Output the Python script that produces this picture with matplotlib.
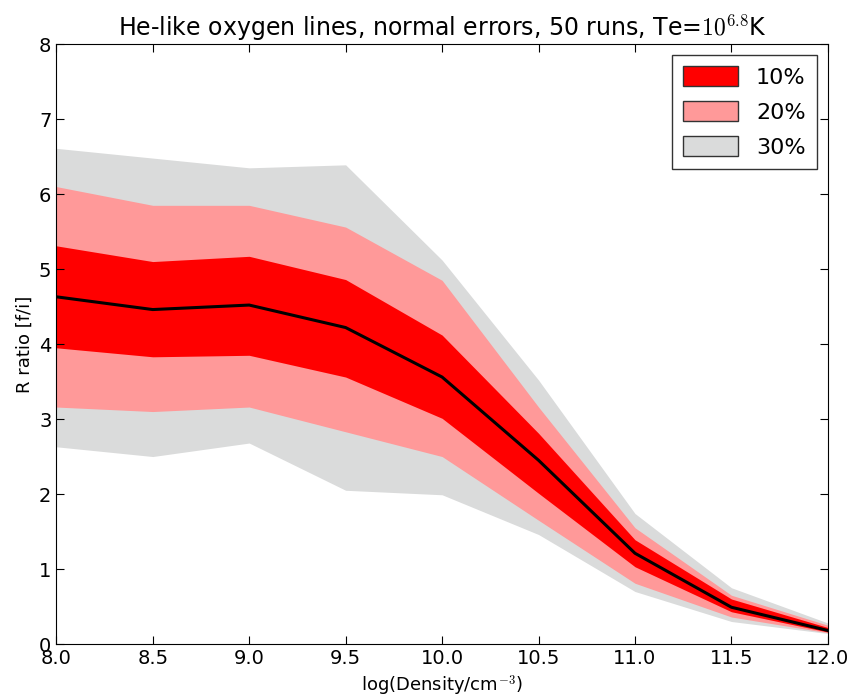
import matplotlib
matplotlib.use("Agg")
import matplotlib.pyplot as plt
from matplotlib.patches import Patch

# log density grid
density = [8.0, 8.5, 9.0, 9.5, 10.0, 10.5, 11.0, 11.5, 12.0]

# median R ratio
r_median = [4.63, 4.46, 4.52, 4.22, 3.56, 2.45, 1.21, 0.49, 0.18]

# 10% error band
r10_low = [3.95, 3.83, 3.85, 3.56, 3.01, 2.01, 1.03, 0.43, 0.16]
r10_high = [5.31, 5.10, 5.17, 4.86, 4.12, 2.81, 1.39, 0.60, 0.22]

# 20% error band
r20_low = [3.16, 3.10, 3.16, 2.83, 2.50, 1.65, 0.81, 0.36, 0.15]
r20_high = [6.10, 5.85, 5.85, 5.56, 4.85, 3.16, 1.55, 0.65, 0.25]

# 30% error band
r30_low = [2.63, 2.50, 2.68, 2.05, 1.99, 1.46, 0.70, 0.30, 0.14]
r30_high = [6.61, 6.48, 6.35, 6.39, 5.12, 3.52, 1.74, 0.75, 0.28]

labels = ["10%", "20%", "30%"]
xticks = [8.0, 8.5, 9.0, 9.5, 10.0, 10.5, 11.0, 11.5, 12.0]

C_10 = "#ff0000"
C_20 = "#ff9999"
C_30 = "#dadbdb"

plt.rcParams["mathtext.fontset"] = "cm"

fig = plt.figure(figsize=(8.66, 7.0), dpi=100)
ax = fig.add_axes([0.065, 0.08, 0.891, 0.857])

ax.fill_between(density, r30_low, r30_high, color=C_30, linewidth=0)
ax.fill_between(density, r20_low, r20_high, color=C_20, linewidth=0)
ax.fill_between(density, r10_low, r10_high, color=C_10, linewidth=0)
ax.plot(density, r_median, color="black", linewidth=2.2)

ax.set_xlim(8.0, 12.0)
ax.set_ylim(0, 8)
ax.set_xticks(xticks)
ax.set_xticklabels([f"{t:.1f}" for t in xticks])
ax.set_yticks(range(0, 9))
ax.tick_params(direction="in", top=True, right=True, length=6, labelsize=14)

ax.set_xlabel(r"log(Density/cm$^{-3}$)", fontsize=13)
ax.set_ylabel("R ratio [f/i]", fontsize=13)
ax.set_title(r"He-like oxygen lines, normal errors, 50 runs, Te=$10^{6.8}$K", fontsize=17)

handles = [
    Patch(facecolor=C_10, edgecolor="#333333", label=labels[0]),
    Patch(facecolor=C_20, edgecolor="#333333", label=labels[1]),
    Patch(facecolor=C_30, edgecolor="#333333", label=labels[2]),
]
ax.legend(handles=handles, loc="upper right", fontsize=16, fancybox=False,
          edgecolor="#333333", framealpha=1, handlelength=2.5, handleheight=1.0,
          borderpad=0.5, labelspacing=0.6)

fig.savefig("out.png", dpi=100)
